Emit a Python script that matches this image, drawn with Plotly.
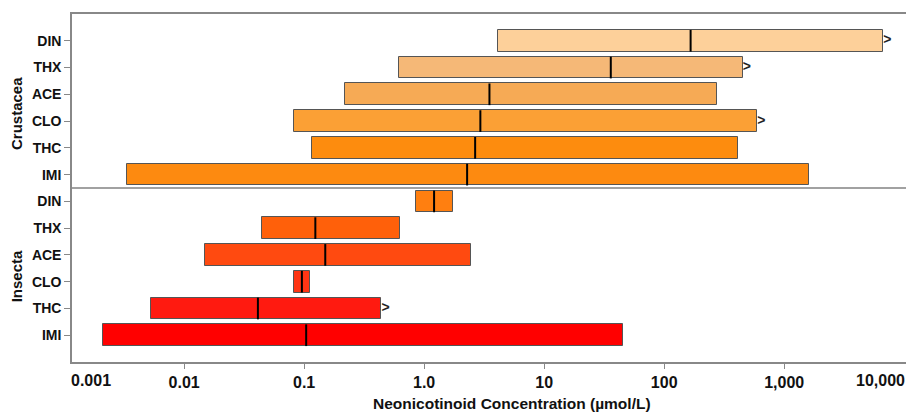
import plotly.graph_objects as go

# ---- data (top to bottom within each group) ----
compounds = ["DIN", "THX", "ACE", "CLO", "THC", "IMI"]

crust_low = [4.16, 0.623, 0.217, 0.0822, 0.117, 0.00332]
crust_med = [166, 35.9, 3.50, 2.94, 2.66, 2.28]
crust_high = [6690, 451, 274, 597, 415, 1618]
crust_gt = [True, True, False, True, False, False]
crust_colors = ["#FDD09A", "#F5B877", "#F6AA55", "#FBA035", "#FD8C0E", "#FD8A10"]

insect_low = [0.853, 0.0445, 0.0148, 0.0822, 0.00532, 0.00212]
insect_med = [1.21, 0.124, 0.150, 0.0958, 0.0412, 0.104]
insect_high = [1.75, 0.628, 2.48, 0.111, 0.441, 45.2]
insect_gt = [False, False, False, False, True, False]
insect_colors = ["#FF7F10", "#FF600A", "#FF4A10", "#FF3514", "#FF1A10", "#FF0000"]

groups = ["Crustacea", "Insecta"]
x_tickvals = [0.01, 0.1, 1, 10, 100, 1000]
x_ticktext = ["0.01", "0.1", "1.0", "10", "100", "1,000"]
x_edge_labels = ["0.001", "10,000"]

# ---- positions ----
n = len(compounds)
crust_pos = [2 * n - 1 - i for i in range(n)]
insect_pos = [n - 1 - i for i in range(n)]

lows = crust_low + insect_low
meds = crust_med + insect_med
highs = crust_high + insect_high
gts = crust_gt + insect_gt
cols = crust_colors + insect_colors
pos = crust_pos + insect_pos
labels = compounds + compounds

FONT = "Liberation Sans, Arial, sans-serif"
fig = go.Figure()

fig.add_trace(go.Bar(
    orientation="h",
    y=pos,
    x=[h - l for h, l in zip(highs, lows)],
    base=lows,
    width=0.81,
    marker=dict(color=cols, line=dict(color="#555555", width=1)),
    showlegend=False,
    hoverinfo="skip",
))

mx, my = [], []
for m, p in zip(meds, pos):
    mx += [m, m, None]
    my += [p - 0.405, p + 0.405, None]
fig.add_trace(go.Scatter(x=mx, y=my, mode="lines",
                         line=dict(color="black", width=2),
                         showlegend=False, hoverinfo="skip"))

gx = [h for h, g in zip(highs, gts) if g]
gy = [p for p, g in zip(pos, gts) if g]
fig.add_trace(go.Scatter(x=gx, y=gy, mode="text", text=[">"] * len(gx),
                         textposition="middle right",
                         textfont=dict(family=FONT, size=14, color="#222222", weight="bold"),
                         showlegend=False, hoverinfo="skip"))

# page body has an 8px margin, so the figure is sized/placed to compensate
fig.update_layout(
    width=906, height=404,
    margin=dict(l=64, r=1, t=6, b=50),
    plot_bgcolor="white", paper_bgcolor="white",
    bargap=0,
    font=dict(family=FONT, color="black"),
)
fig.update_xaxes(
    type="log", range=[-2.934, 4.073],
    tickvals=x_tickvals, ticktext=x_ticktext,
    tickfont=dict(family=FONT, size=16, color="#111111", weight="bold"),
    ticks="outside", ticklen=5, tickcolor="#888888",
    showline=True, linecolor="#888888", linewidth=1.5, mirror=True,
    showgrid=False, zeroline=False, automargin=False,
)
fig.update_yaxes(
    range=[-1, 2 * n],
    tickvals=pos, ticktext=labels,
    tickfont=dict(family=FONT, size=14, color="#111111", weight="bold"),
    ticks="outside", ticklen=6, tickcolor="#888888",
    showline=True, linecolor="#888888", linewidth=1.5,
    showgrid=False, zeroline=False, automargin=False,
)

# divider between groups
fig.add_shape(type="line", xref="paper", yref="y", x0=0, x1=1,
              y0=n - 0.5, y1=n - 0.5, line=dict(color="#444444", width=1.2))

# group labels
fig.add_annotation(text=groups[0], xref="paper", yref="y", x=-0.0666, y=8.3,
                   xanchor="center", yanchor="middle",
                   textangle=-90, showarrow=False,
                   font=dict(family=FONT, size=15, color="#111111", weight="bold"))
fig.add_annotation(text=groups[1], xref="paper", yref="y", x=-0.0666, y=2.2,
                   xanchor="center", yanchor="middle",
                   textangle=-90, showarrow=False,
                   font=dict(family=FONT, size=15, color="#111111", weight="bold"))

# edge tick labels
fig.add_annotation(text=x_edge_labels[0], xref="paper", yref="paper", x=-0.003, y=-0.053,
                   xanchor="left", yanchor="middle", showarrow=False,
                   font=dict(family=FONT, size=16, color="#111111", weight="bold"))
fig.add_annotation(text=x_edge_labels[1], xref="paper", yref="paper", x=1.0, y=-0.053,
                   xanchor="right", yanchor="middle", showarrow=False, xshift=-6,
                   font=dict(family=FONT, size=16, color="#111111", weight="bold"))

# axis title
fig.add_annotation(text="Neonicotinoid Concentration (µmol/L)", xref="paper", yref="paper",
                   x=0.523, y=-0.119, xanchor="center", yanchor="middle", showarrow=False,
                   font=dict(family=FONT, size=15.5, color="#111111", weight="bold"))

fig.write_html("out.html")
